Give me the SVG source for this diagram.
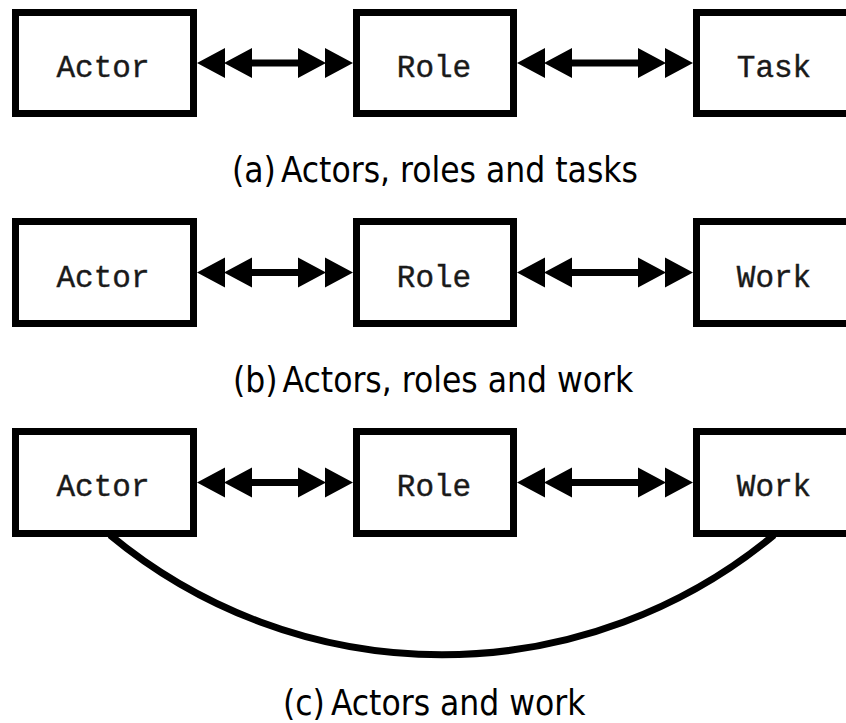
<svg xmlns="http://www.w3.org/2000/svg" width="846" height="723" viewBox="0 0 846 723">
<style>
.box{fill:#fff;stroke:#000;stroke-width:7}
.lbl{font-family:"Liberation Mono","Courier New",monospace;font-size:31px;fill:#1a1a1a;text-anchor:middle;stroke:#1a1a1a;stroke-width:0.4}
.cap{font-family:"DejaVu Sans Condensed","DejaVu Sans",sans-serif;font-stretch:condensed;font-size:35px;fill:#000}
.conn{fill:none;stroke:#000;stroke-width:7}
</style>
<defs>
<marker id="dbl" markerUnits="userSpaceOnUse" viewBox="0 -16 56 32" refX="0" refY="0" markerWidth="56" markerHeight="32" orient="auto-start-reverse">
<path d="M0,-15 L28,0 L0,15 Z M27,-15 L55,0 L27,15 Z" fill="#000"/>
</marker>
</defs>
<rect width="846" height="723" fill="#fff"/>
<g id="connectors">
<line class="conn" x1="252" y1="63" x2="298" y2="63" marker-start="url(#dbl)" marker-end="url(#dbl)"/>
<line class="conn" x1="572" y1="63" x2="638" y2="63" marker-start="url(#dbl)" marker-end="url(#dbl)"/>
<line class="conn" x1="252" y1="272.5" x2="298" y2="272.5" marker-start="url(#dbl)" marker-end="url(#dbl)"/>
<line class="conn" x1="572" y1="272.5" x2="638" y2="272.5" marker-start="url(#dbl)" marker-end="url(#dbl)"/>
<line class="conn" x1="252" y1="482.5" x2="298" y2="482.5" marker-start="url(#dbl)" marker-end="url(#dbl)"/>
<line class="conn" x1="572" y1="482.5" x2="638" y2="482.5" marker-start="url(#dbl)" marker-end="url(#dbl)"/>
<path class="conn" d="M110,535 A520,520 0 0 0 774,535"/>
</g>
<g id="a-actor"><rect class="box" x="15.5" y="12.5" width="178" height="101"/><text class="lbl" x="103" y="77">Actor</text></g>
<g id="a-role"><rect class="box" x="356.5" y="12.5" width="157" height="101"/><text class="lbl" x="434" y="77">Role</text></g>
<g id="a-task"><rect class="box" x="696.5" y="12.5" width="180" height="101"/><text class="lbl" x="774" y="77">Task</text></g>
<text class="cap" x="232" y="182">(a)<tspan dx="5">Actors, roles and tasks</tspan></text>
<g id="b-actor"><rect class="box" x="15.5" y="221.5" width="178" height="102"/><text class="lbl" x="103" y="287">Actor</text></g>
<g id="b-role"><rect class="box" x="356.5" y="221.5" width="157" height="102"/><text class="lbl" x="434" y="287">Role</text></g>
<g id="b-work"><rect class="box" x="696.5" y="221.5" width="180" height="102"/><text class="lbl" x="774" y="287">Work</text></g>
<text class="cap" x="233" y="392">(b)<tspan dx="5">Actors, roles and work</tspan></text>
<g id="c-actor"><rect class="box" x="15.5" y="431.5" width="178" height="102"/><text class="lbl" x="103" y="496">Actor</text></g>
<g id="c-role"><rect class="box" x="356.5" y="431.5" width="157" height="102"/><text class="lbl" x="434" y="496">Role</text></g>
<g id="c-work"><rect class="box" x="696.5" y="431.5" width="180" height="102"/><text class="lbl" x="774" y="496">Work</text></g>
<text class="cap" x="283" y="715">(c)<tspan dx="6">Actors and work</tspan></text>
</svg>
